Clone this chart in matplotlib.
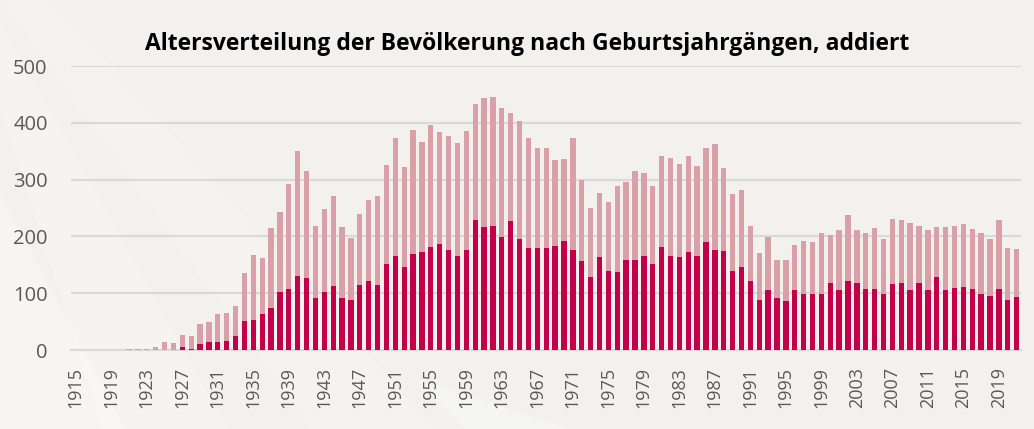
import matplotlib.pyplot as plt
from matplotlib.patches import Polygon

# Geburtsjahrgänge 1915..2021
years = list(range(1915, 2022))

# Gesamtwert (addiert) pro Jahrgang
total = [0, 0, 0, 0, 0, 0,
         1, 1, 2, 6, 15, 13, 26, 25, 46, 50,
         64, 65, 77, 136, 168, 162, 215, 243, 292, 350,
         315, 219, 249, 271, 216, 198, 240, 265, 271, 326,
         374, 322, 388, 367, 396, 384, 377, 365, 385, 434,
         443, 445, 427, 418, 404, 374, 355, 355, 335, 337,
         373, 299, 250, 276, 261, 288, 296, 315, 312, 289,
         342, 338, 328, 342, 324, 355, 362, 321, 274, 282,
         219, 171, 199, 159, 159, 185, 192, 191, 206, 202,
         211, 238, 211, 206, 215, 196, 231, 229, 224, 219,
         212, 217, 217, 219, 222, 213, 206, 196, 229, 179,
         178]

# unterer (dunkler) Teil
lower = [0, 0, 0, 0, 0, 0,
         0, 0, 0, 0, 0, 0, 6, 2, 11, 14,
         14, 16, 24, 51, 53, 64, 74, 102, 107, 131,
         127, 91, 102, 112, 92, 89, 114, 121, 115, 152,
         165, 146, 169, 173, 182, 187, 176, 165, 176, 229,
         217, 219, 199, 228, 196, 180, 180, 180, 183, 192,
         176, 157, 128, 164, 139, 138, 159, 159, 165, 151,
         181, 166, 164, 173, 165, 190, 176, 175, 140, 146,
         121, 88, 105, 91, 86, 105, 99, 99, 99, 118,
         106, 121, 118, 107, 108, 99, 116, 118, 106, 118,
         105, 129, 106, 109, 111, 107, 99, 95, 107, 89,
         93]

upper = [t - l for t, l in zip(total, lower)]

dark = '#c4004b'
light = '#daa0a8'
bg = '#f2f1ed'

plt.rcParams['font.family'] = ['Open Sans', 'DejaVu Sans']

fig = plt.figure(figsize=(10.34, 4.29), dpi=100, facecolor=bg)

# helle Streifen im Hintergrund (hinter dem Diagramm)
for pts, a in [([(0.0, 0.0), (0.12, 0.0), (0.0, 0.55)], 0.35),
               ([(0.10, 0.0), (0.22, 0.0), (0.0, 0.95), (0.0, 0.75)], 0.25),
               ([(0.30, 0.0), (0.42, 0.0), (0.05, 1.0), (0.0, 1.0)], 0.18),
               ([(0.45, 0.0), (0.55, 0.0), (0.40, 0.12)], 0.3)]:
    fig.patches.append(Polygon(pts, closed=True, transform=fig.transFigure,
                               facecolor='white', alpha=a, edgecolor='none', zorder=-5))

ax = fig.add_axes([0.069, 0.184, 0.9185, 0.662])
ax.set_facecolor('none')
ax.set_zorder(2)

ax.bar(years, lower, width=0.6, color=dark, zorder=3)
ax.bar(years, upper, width=0.6, bottom=lower, color=light, zorder=3)

ax.set_xlim(1914.5, 2021.5)
ax.set_ylim(0, 500)
ax.set_yticks(range(0, 501, 100))
ax.set_xticks(range(1915, 2022, 4))
ax.tick_params(axis='x', labelrotation=90, length=0, pad=12, labelsize=13, labelcolor='#595959')
ax.tick_params(axis='y', length=0, pad=17, labelsize=14.5, labelcolor='#595959')

ax.grid(axis='y', color='#d9d9d9', linewidth=1.5, zorder=0)
for s in ['top', 'right', 'left']:
    ax.spines[s].set_visible(False)
ax.spines['bottom'].set_color('#d9d9d9')
ax.spines['bottom'].set_linewidth(1.5)

fig.text(0.51, 0.897, 'Altersverteilung der Bevölkerung nach Geburtsjahrgängen, addiert',
         ha='center', va='center', fontsize=16.5, fontweight='bold', color='black', zorder=3)

fig.savefig('out.png', dpi=100, facecolor=bg)
